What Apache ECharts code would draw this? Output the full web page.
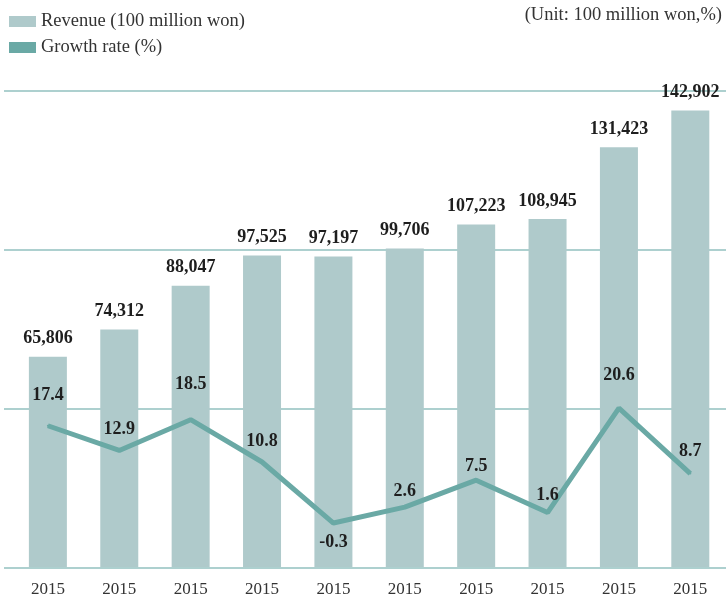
<!DOCTYPE html>
<html>
<head>
<meta charset="utf-8">
<script src="https://cdn.jsdelivr.net/npm/echarts@6/dist/echarts.min.js"></script>
<style>
  html, body { margin: 0; padding: 0; background: #fff; }
  #chart { width: 726px; height: 598px; }
</style>
</head>
<body>
<div id="chart"></div>
<script>
// Revenue (100 million won) and year-on-year growth (%)
const years = ['2015', '2015', '2015', '2015', '2015', '2015', '2015', '2015', '2015', '2015'];
const revenue = [65806, 74312, 88047, 97525, 97197, 99706, 107223, 108945, 131423, 142902];
const growth = [17.4, 12.9, 18.5, 10.8, -0.3, 2.6, 7.5, 1.6, 20.6, 8.7];

// vertical nudges (label centre relative to the point) for the growth labels
const growthLabelDy = [-29, -20, -34, -20, 20, -15, -13, -16, -32, -21];

const FONT = '"Liberation Serif", "DejaVu Serif", serif';
const BAR = '#afcacb';
const LINE = '#6aa9a5';
const GRID = '#92c1bf';

const chart = echarts.init(document.getElementById('chart'));

chart.setOption({
  backgroundColor: '#fff',
  animation: false,
  textStyle: { fontFamily: FONT },
  legend: {
    orient: 'vertical',
    left: 4,
    top: 7,
    itemWidth: 27,
    itemHeight: 11,
    itemGap: 7,
    itemTextGap: 11,
    icon: 'rect',
    textStyle: { fontFamily: FONT, fontSize: 18.5, color: '#333', lineHeight: 19 },
    data: ['Revenue (100 million won)', 'Growth rate (%)']
  },
  graphic: [{
    type: 'text',
    right: 4,
    top: 6,
    style: { text: '(Unit: 100 million won,%)', font: '18.5px ' + FONT, fill: '#333' }
  }],
  grid: [
    // full-width rules behind the chart
    { left: 4, right: 0, top: 91, height: 476.5 },
    // plotting area for bars and line
    { left: 12.2, width: 717, top: 91, height: 476.5 }
  ],
  xAxis: [
    { gridIndex: 0, type: 'value', min: 0, max: 1, show: false },
    {
      gridIndex: 1,
      type: 'category',
      data: years,
      axisLine: { show: false },
      axisTick: { show: false },
      axisLabel: { margin: 14, fontFamily: FONT, fontSize: 17, color: '#333' }
    }
  ],
  yAxis: [
    {
      gridIndex: 0, type: 'value', min: 0, max: 3, interval: 1,
      axisLine: { show: false }, axisTick: { show: false }, axisLabel: { show: false },
      splitLine: { show: true, lineStyle: { color: GRID, width: 1.5 } }
    },
    { gridIndex: 1, type: 'value', min: 0, max: 149000, show: false, splitLine: { show: false } },
    { gridIndex: 1, type: 'value', min: -8.3, max: 78.3, show: false, splitLine: { show: false } }
  ],
  series: [
    {
      name: 'Revenue (100 million won)',
      type: 'bar',
      xAxisIndex: 1,
      yAxisIndex: 1,
      data: revenue,
      barWidth: 38,
      itemStyle: { color: BAR },
      label: {
        show: true,
        position: 'top',
        distance: 9,
        fontFamily: FONT,
        fontSize: 18,
        fontWeight: 'bold',
        color: '#1e1e1e',
        formatter: p => p.value.toLocaleString('en-US')
      },
      z: 2
    },
    {
      name: 'Growth rate (%)',
      type: 'line',
      xAxisIndex: 1,
      yAxisIndex: 2,
      data: growth.map((v, i) => ({
        value: v,
        label: { offset: [0, growthLabelDy[i] + 9] }
      })),
      symbol: 'circle',
      symbolSize: 2,
      showSymbol: true,
      itemStyle: { color: LINE },
      lineStyle: { color: LINE, width: 5 },
      label: {
        show: true,
        position: 'top',
        distance: 0,
        fontFamily: FONT,
        fontSize: 18,
        fontWeight: 'bold',
        color: '#1e1e1e',
        formatter: p => p.value.toFixed(1)
      },
      z: 3
    }
  ]
});
</script>
</body>
</html>
